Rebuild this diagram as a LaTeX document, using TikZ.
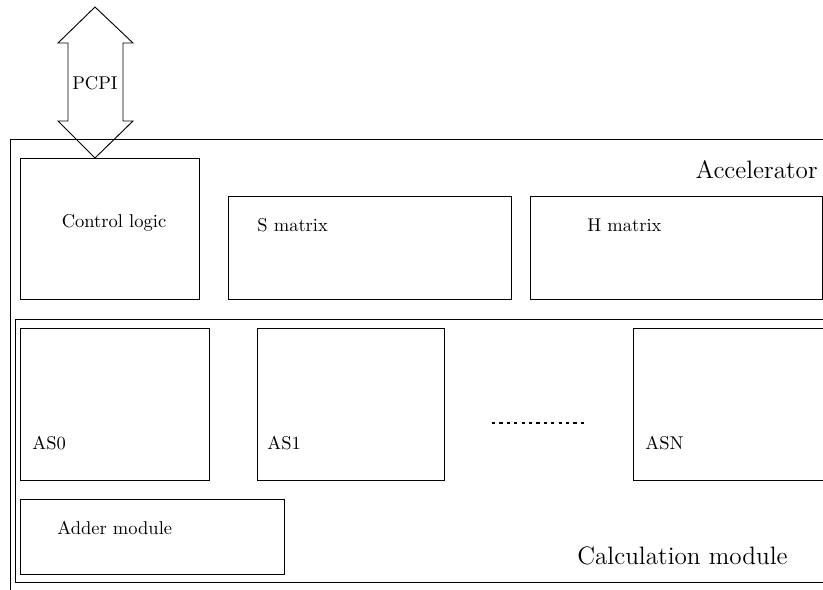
\documentclass[tikz,border=0pt]{standalone}
\usetikzlibrary{fit}
\begin{document}
\begin{tikzpicture}[x=0.54pt,y=-0.54pt,
  box/.style={draw,line width=0.5pt,inner sep=0pt,fill=none},
  lbl/.style={inner sep=0pt,font=\fontsize{10}{12}\selectfont},
  big/.style={inner sep=0pt,font=\fontsize{13.6}{16}\selectfont}]
\clip (0,0) rectangle (823,589);
\useasboundingbox (0,0) rectangle (823,589);
% outer accelerator box
\node[box,fit={(10,139)(835,600)}] (acc) {};
\node[big,anchor=east] (acct) at (818,170) {Accelerator};
% top row
\node[box,fit={(20,158)(199,299)}] (ctrl) {};
\node[lbl] (ctrlt) at (114,223) {Control logic};
\node[box,fit={(228,196)(511,299)}] (smat) {};
\node[lbl,anchor=west] (smatt) at (257,225) {S matrix};
\node[box,fit={(530,196)(822,299)}] (hmat) {};
\node[lbl,anchor=west] (hmatt) at (587,225) {H matrix};
% calculation module
\node[box,fit={(15,319)(835,582)}] (calc) {};
\node[big,anchor=east] (calct) at (788,556) {Calculation module};
\node[box,fit={(20,328)(209,480)}] (as0) {};
\node[lbl,anchor=west] (as0t) at (32,443) {AS0};
\node[box,fit={(257,328)(444,480)}] (as1) {};
\node[lbl,anchor=west] (as1t) at (267,443) {AS1};
\node[box,fit={(633,328)(835,480)}] (asn) {};
\node[lbl,anchor=west] (asnt) at (645,443) {ASN};
\coordinate (d1) at (492,423);
\coordinate (d2) at (584,423);
\draw[line width=1.3pt,dash pattern=on 1.7pt off 2.3pt] (d1) -- (d2);
\node[box,fit={(20,499)(284,574)}] (adder) {};
\node[lbl,anchor=west] (addert) at (57,528) {Adder module};
% PCPI double arrow
\draw[line width=0.5pt,line join=miter] (95,7) -- (133,43) -- (123,43) -- (123,121) -- (133,121) -- (95,158)
  -- (58,121) -- (68,121) -- (68,43) -- (58,43) -- cycle;
\node[lbl] (pcpi) at (95,83) {PCPI};
\end{tikzpicture}
\end{document}
